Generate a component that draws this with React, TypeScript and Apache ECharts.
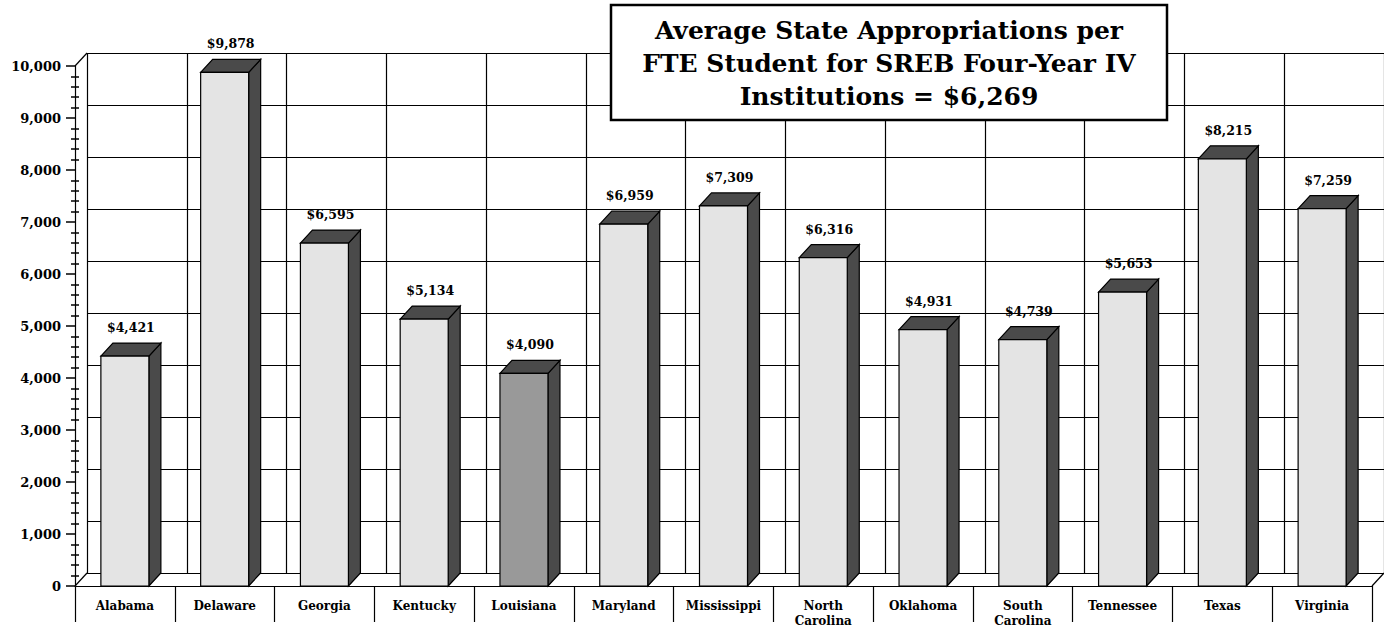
import React, { useEffect, useRef } from "react";
import * as echarts from "echarts";

const categories = [
  "Alabama", "Delaware", "Georgia", "Kentucky", "Louisiana", "Maryland", "Mississippi",
  "North\nCarolina", "Oklahoma", "South\nCarolina", "Tennessee", "Texas", "Virginia",
];
const values = [4421, 9878, 6595, 5134, 4090, 6959, 7309, 6316, 4931, 4739, 5653, 8215, 7259];
const highlighted = ["Louisiana"];
const titleLines = [
  "Average State Appropriations per",
  "FTE Student for SREB Four-Year IV",
  "Institutions = $6,269",
];

const FONT = "DejaVu Serif";
const DX = 12;
const DY = 13;
const HALF = 24;

export default function App() {
  const ref = useRef<HTMLDivElement>(null);
  useEffect(() => {
    if (!ref.current) return;
    const chart = echarts.init(ref.current, undefined, { renderer: "svg" });
    const black = "#000";
    const option: any = {
      animation: false,
      backgroundColor: "#fff",
      grid: [
        { left: 75, top: 66, width: 1297, height: 520 },
        { left: 75 + DX, top: 66 - DY, width: 1297, height: 520 },
      ],
      xAxis: [
        {
          type: "category", gridIndex: 0, data: categories, boundaryGap: true,
          axisLine: { show: true, lineStyle: { color: black, width: 1.2 } },
          axisTick: { show: true, interval: 0, length: 36, lineStyle: { color: black, width: 1.2 } },
          axisLabel: {
            interval: 0, margin: 12, color: black, fontFamily: FONT, fontWeight: "bold",
            fontSize: 12, lineHeight: 15,
          },
          splitLine: { show: false },
        },
        {
          type: "category", gridIndex: 1, data: categories, boundaryGap: true,
          axisLine: { show: false }, axisTick: { show: false }, axisLabel: { show: false },
          splitLine: { show: true, interval: 0, lineStyle: { color: black, width: 1.2 } },
        },
      ],
      yAxis: [
        {
          type: "value", gridIndex: 0, position: "left", min: 0, max: 10000, interval: 1000,
          axisLine: { show: true, lineStyle: { color: black, width: 1.2 } },
          axisTick: { show: true, length: 9, lineStyle: { color: black, width: 1.5 } },
          minorTick: { show: true, splitNumber: 5, length: 4, lineStyle: { color: black, width: 1.5 } },
          axisLabel: {
            margin: 14, color: black, fontFamily: FONT, fontWeight: "bold", fontSize: 13,
            formatter: (v: number) => v.toLocaleString("en-US"),
          },
          splitLine: { show: false },
        },
        {
          type: "value", gridIndex: 0, position: "left", offset: 0, min: 0, max: 10000, interval: 1000,
          axisLine: { show: false },
          axisTick: { show: false, inside: true },
          minorTick: { show: true, splitNumber: 5, length: 4, lineStyle: { color: black, width: 1.5 } },
          axisLabel: { show: false },
          splitLine: { show: false },
        },
        {
          type: "value", gridIndex: 1, min: 0, max: 10000, interval: 1000,
          axisLine: { show: false }, axisTick: { show: false }, axisLabel: { show: false },
          splitLine: { show: true, lineStyle: { color: black, width: 1.2 } },
        },
      ],
      series: [
        {
          type: "custom",
          xAxisIndex: 0,
          yAxisIndex: 0,
          clip: false,
          data: values.map((v, i) => [i, v]),
          encode: { x: 0, y: 1 },
          renderItem: (params: any, api: any) => {
            const i = api.value(0);
            const v = api.value(1);
            const top = api.coord([i, v]);
            const base = api.coord([i, 0]);
            const cx = top[0];
            const yT = top[1];
            const yB = base[1];
            const x0 = cx - HALF;
            const x1 = cx + HALF;
            const name = categories[params.dataIndex];
            const face = highlighted.indexOf(name) >= 0 ? "#999999" : "#e4e4e4";
            const stroke = { stroke: "#000", lineWidth: 1.2 };
            return {
              type: "group",
              children: [
                {
                  type: "polygon",
                  shape: { points: [[x1, yB], [x1 + DX, yB - DY], [x1 + DX, yT - DY], [x1, yT]] },
                  style: { fill: "#4a4a4a", ...stroke },
                },
                {
                  type: "polygon",
                  shape: { points: [[x0, yT], [x0 + DX, yT - DY], [x1 + DX, yT - DY], [x1, yT]] },
                  style: { fill: "#4a4a4a", ...stroke },
                },
                {
                  type: "rect",
                  shape: { x: x0, y: yT, width: x1 - x0, height: yB - yT },
                  style: { fill: face, ...stroke },
                },
                {
                  type: "text",
                  x: cx + DX / 2,
                  y: yT - DY - 9,
                  style: {
                    text: "$" + v.toLocaleString("en-US"),
                    textAlign: "center",
                    textVerticalAlign: "bottom",
                    font: `bold 12.5px "${FONT}"`,
                    fill: "#000",
                  },
                },
              ],
            };
          },
        },
      ],
      graphic: [
        { type: "line", shape: { x1: 75, y1: 66, x2: 75 + DX, y2: 66 - DY }, style: { stroke: black, lineWidth: 1.2 } },
        { type: "line", shape: { x1: 75, y1: 586, x2: 75 + DX, y2: 586 - DY }, style: { stroke: black, lineWidth: 1.2 } },
        { type: "line", shape: { x1: 1372, y1: 586, x2: 1372 + DX, y2: 586 - DY }, style: { stroke: black, lineWidth: 1.2 } },
        {
          type: "rect",
          shape: { x: 611, y: 5, width: 556, height: 115 },
          style: { fill: "#fff", stroke: black, lineWidth: 2.5 },
          z: 100,
        },
        {
          type: "text",
          x: 889,
          y: 63,
          z: 101,
          style: {
            text: titleLines.join("\n"),
            textAlign: "center",
            textVerticalAlign: "middle",
            font: `bold 25px "${FONT}"`,
            lineHeight: 33,
            fill: black,
          },
        },
      ],
    };
    chart.setOption(option);
    return () => chart.dispose();
  }, []);
  return (
    <div
      ref={ref}
      style={{ position: "fixed", left: 0, top: 0, width: 1384, height: 632 }}
    />
  );
}
